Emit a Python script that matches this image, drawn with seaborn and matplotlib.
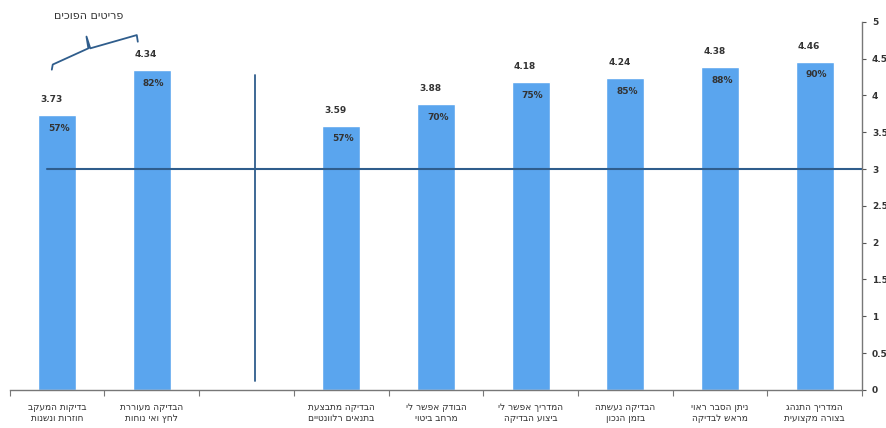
import pandas as pd
import numpy as np
import seaborn as sns
import matplotlib
matplotlib.use('Agg')
import matplotlib.pyplot as plt

# categories in display order (left to right), Hebrew lines written in logical order
categories = [
    'בדיקות המעקב\nחוזרות ונשנות',
    'הבדיקה מעוררת\nלחץ ואי נוחות',
    '',
    'הבדיקה מתבצעת\nבתנאים רלוונטיים',
    'הבודק אפשר לי\nמרחב ביטוי',
    'המדריך אפשר לי\nביצוע הבדיקה',
    'הבדיקה נעשתה\nבזמן הנכון',
    'ניתן הסבר ראוי\nמראש לבדיקה',
    'המדריך התנהג\nבצורה מקצועית',
]
scores = [3.73, 4.34, np.nan, 3.59, 3.88, 4.18, 4.24, 4.38, 4.46]
percents = ['57%', '82%', '', '57%', '70%', '75%', '85%', '88%', '90%']
y_ticks = [0, 0.5, 1, 1.5, 2, 2.5, 3, 3.5, 4, 4.5, 5]
group_title = 'פריטים הפוכים'


def rtl(s):
    # matplotlib has no bidi, flip each line by hand
    return '\n'.join(line[::-1] for line in s.split('\n'))


sns.set_style('white')
plt.rcParams['font.family'] = ['DejaVu Sans']

df = pd.DataFrame({'cat': [rtl(c) for c in categories], 'score': scores})
order = list(df['cat'])
df = df.dropna()

fig = plt.figure(figsize=(8.87, 4.28), dpi=100)
ax = fig.add_axes([0.011, 0.089, 0.961, 0.86])

sns.barplot(data=df, x='cat', y='score', order=order, color='#5AA5EE',
            saturation=1, width=0.4, ax=ax)

ax.set_ylim(0, 5)
ax.set_xlim(-0.5, len(order) - 0.5)
ax.set_xlabel('')
ax.set_ylabel('')

# right-hand y axis like the original
ax.yaxis.tick_right()
ax.set_yticks(y_ticks)
ax.set_yticklabels([f'{t:g}' for t in y_ticks], fontsize=6.5, fontweight='bold', color='#333333')
ax.tick_params(axis='y', right=True, length=3, width=0.8, color='#555555', pad=4)

for s in ['top', 'left']:
    ax.spines[s].set_visible(False)
for s in ['right', 'bottom']:
    ax.spines[s].set_color('#777777')
    ax.spines[s].set_linewidth(1)

# category labels, tick marks between categories
ax.set_xticks(range(len(order)))
ax.set_xticklabels(order, fontsize=6.5, color='#333333')
ax.tick_params(axis='x', which='major', bottom=False, pad=6)
ax.set_xticks(np.arange(-0.5, len(order)), minor=True)
ax.tick_params(axis='x', which='minor', bottom=True, length=4, width=0.8,
               color='#777777', direction='out')

# value labels
for i, (v, p) in enumerate(zip(scores, percents)):
    if np.isnan(v):
        continue
    ax.text(i - 0.06, v + 0.15, f'{v:.2f}', ha='center', va='bottom',
            fontsize=6.5, fontweight='bold', color='#333333')
    ax.text(i + 0.02, v - 0.12, p, ha='center', va='top',
            fontsize=6.5, fontweight='bold', color='#333333')

line_col = '#2F5D8C'
ax.plot([-0.11, len(order) - 0.5], [3, 3], color=line_col, lw=1.5)
ax.plot([2.09, 2.09], [0.12, 4.28], color=line_col, lw=1.3)

# brace over the reversed items
bx = [-0.056, -0.046, 0.33, 0.31, 0.35, 0.841, 0.852]
by = [4.35, 4.42, 4.64, 4.80, 4.64, 4.82, 4.73]
ax.plot(bx, by, color=line_col, lw=1.3, clip_on=False)
ax.text(0.33, 5.08, rtl(group_title), ha='center', va='center',
        fontsize=8, color='#333333', clip_on=False)

fig.savefig('out.png', dpi=100, facecolor='white')
